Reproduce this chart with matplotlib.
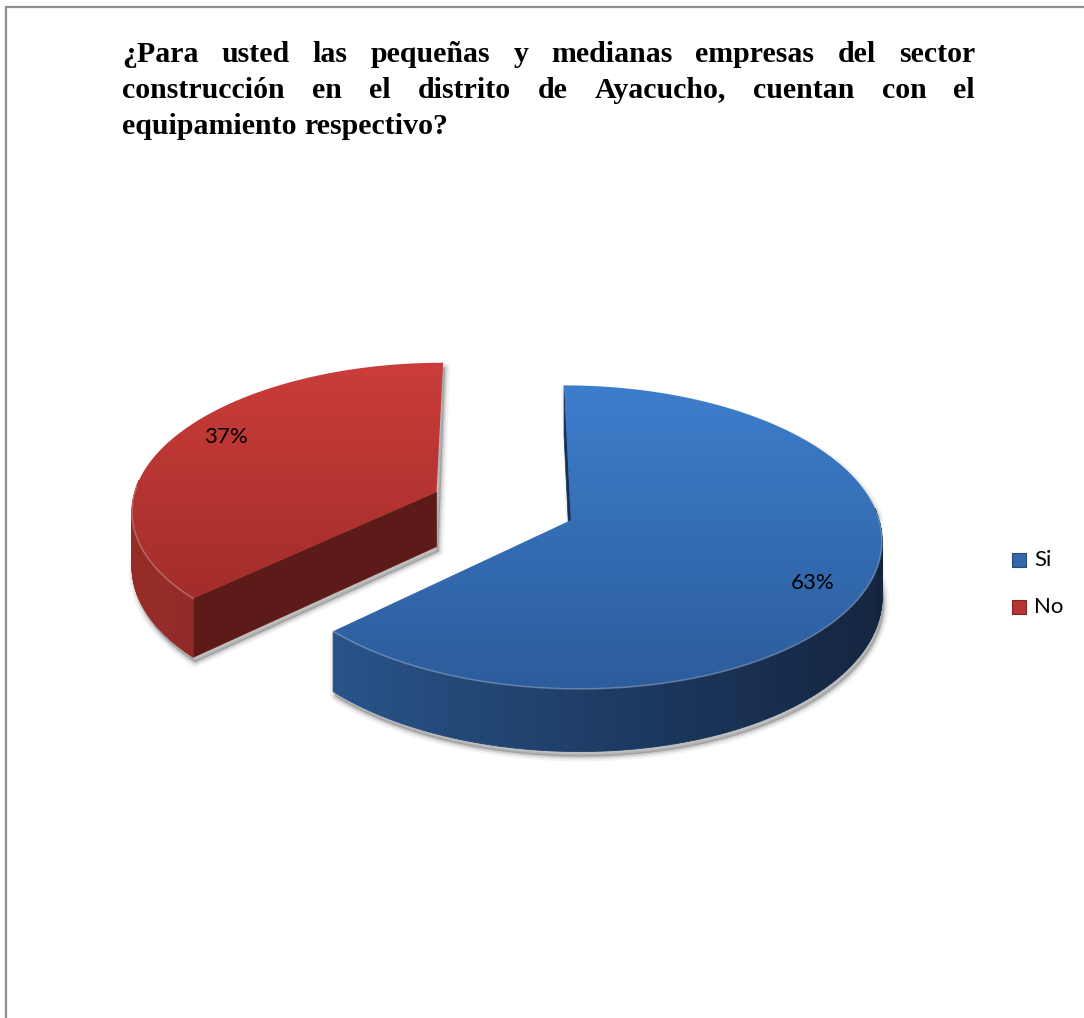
import numpy as np
import matplotlib
matplotlib.use("Agg")
import matplotlib.pyplot as plt
from matplotlib.patches import Polygon, Rectangle
from matplotlib.colors import to_rgb

# ------ data ------------------------------------------------
labels = ["Si", "No"]
values = [63, 37]
pct_labels = ["63%", "37%"]

title_lines = [
    "¿Para usted las pequeñas y medianas empresas del sector",
    "construcción en el distrito de Ayacucho, cuentan con el",
    "equipamiento respectivo?",
]

# top face (light, dark), side (light, dark), cut face
top_cols = [("#3d7ecc", "#2c5c9b"), ("#cb3d3a", "#a22d2a")]
side_cols = [("#285389", "#13243f"), ("#962c28", "#7a2320")]
cut_cols = ["#17305a", "#5c1a18"]
legend_cols = ["#3468a8", "#b53532"]

# ------ canvas (pixel coordinates) --------------------------
W, H = 1084, 1018
fig = plt.figure(figsize=(W / 100, H / 100), dpi=100)
ax = fig.add_axes([0, 0, 1, 1])
ax.axis("off")

# frame line on the left and top
ax.plot([6, 6, W + 5], [H + 5, 7, 7], color="#8f8f8f", lw=1.6,
        solid_joinstyle="miter", zorder=1)

# ------ title, justified ------------------------------------
renderer = fig.canvas.get_renderer()
tfont = dict(family="Liberation Serif", weight="bold", size=21.5)
x_left, x_right = 122, 975
baselines = [62, 98, 134]
for li, line in enumerate(title_lines):
    words = line.split(" ")
    texts = [ax.text(0, baselines[li], w, va="baseline", ha="left", **tfont)
             for w in words]
    widths = [t.get_window_extent(renderer).width for t in texts]
    if li < len(title_lines) - 1:
        gap = (x_right - x_left - sum(widths)) / (len(words) - 1)
    else:
        sp = ax.text(0, 0, "a a", **tfont)
        sa = ax.text(0, 0, "aa", **tfont)
        gap = sp.get_window_extent(renderer).width - sa.get_window_extent(renderer).width
        sp.remove()
        sa.remove()
    x = x_left
    for t, w in zip(texts, widths):
        t.set_x(x)
        x += w + gap

# ------ 3d pie geometry --------------------------------------
cx, cy = 503, 506        # pie centre on screen
rx, ry = 305, 146.7      # radii of the projected ellipse
persp = 0.111            # perspective strength
thick = 55               # slice height
explode = 0.24
lab_r, lab_shift = 0.84, np.radians(-5)


def proj(X, Y, z=0.0):
    d = 1 + persp * Y
    return cx + rx * X / d, cy - ry * Y / d + thick * z / d


def mix(c1, c2, f):
    a, b = np.array(to_rgb(c1)), np.array(to_rgb(c2))
    f = min(max(f, 0), 1)
    return tuple(a + (b - a) * f)


def grad_fill(pts, c_top, c_bot, z):
    pts = np.asarray(pts)
    patch = Polygon(pts, closed=True, fc="none", ec="none", zorder=z)
    ax.add_patch(patch)
    y0, y1 = pts[:, 1].min(), pts[:, 1].max()
    x0, x1 = pts[:, 0].min(), pts[:, 0].max()
    n = 64
    arr = np.array([mix(c_top, c_bot, i / (n - 1)) for i in range(n)])[:, None, :]
    arr = np.repeat(arr, 2, axis=1)
    im = ax.imshow(arr, extent=(x0 - 1, x1 + 1, y1 + 1, y0 - 1), origin="upper",
                   aspect="auto", interpolation="bilinear", zorder=z)
    im.set_clip_path(patch)


total = float(sum(values))
cum = 0.0
slices = []
for i, v in enumerate(values):
    t_hi = 90 - cum / total * 360
    t_lo = t_hi - v / total * 360
    cum += v
    mid = np.radians((t_lo + t_hi) / 2)
    slices.append((i, np.radians(t_lo), np.radians(t_hi),
                   explode * np.cos(mid), explode * np.sin(mid), mid))

# draw the back slice first
order = sorted(slices, key=lambda s: -s[4])
for k, (i, a_lo, a_hi, ox, oy, mid) in enumerate(order):
    zb = 2 + k * 10
    ts = np.linspace(a_hi, a_lo, 240)
    top_arc = [proj(ox + np.cos(t), oy + np.sin(t)) for t in ts]
    bot_arc = [proj(ox + np.cos(t), oy + np.sin(t), 1) for t in ts]
    apex_t = proj(ox, oy)
    apex_b = proj(ox, oy, 1)

    # soft shadow around the slice outline
    front = np.sin(ts) < 0.05
    outline = [apex_b] + [bot_arc[j] if front[j] else top_arc[j] for j in range(len(ts))]
    outline.append(top_arc[-1])
    shp = np.array(outline) + np.array([2, 5])
    for lw, al in [(7, 0.05), (4, 0.07), (2, 0.09)]:
        ax.add_patch(Polygon(shp, closed=True, fc=(0, 0, 0, al), ec=(0, 0, 0, al),
                             lw=lw, joinstyle="round", zorder=zb))

    # radial cut faces that face the viewer
    for a, sgn in [(a_lo, 1), (a_hi, -1)]:
        ny = np.cos(a) * sgn * -1
        if ny < 0 or (a == a_hi and abs(np.cos(a)) < 1e-6):
            rim_t = proj(ox + np.cos(a), oy + np.sin(a))
            rim_b = proj(ox + np.cos(a), oy + np.sin(a), 1)
            ax.add_patch(Polygon([apex_t, rim_t, rim_b, apex_b], closed=True,
                                 fc=cut_cols[i], ec=cut_cols[i], lw=0.5, zorder=zb + 1))

    # outer curved side, shaded left to right
    xs_all = [p[0] for p in top_arc]
    xmin, xmax = min(xs_all), max(xs_all)
    for j in range(len(ts) - 1):
        if np.sin(ts[j]) > 0.08 and np.sin(ts[j + 1]) > 0.08:
            continue
        quad = [top_arc[j], top_arc[j + 1], bot_arc[j + 1], bot_arc[j]]
        f = (top_arc[j][0] - xmin) / (xmax - xmin + 1e-9)
        c = mix(side_cols[i][0], side_cols[i][1], f)
        ax.add_patch(Polygon(quad, closed=True, fc=c, ec=c, lw=0.6, zorder=zb + 2))

    # top face with vertical gradient
    face = [apex_t] + top_arc
    grad_fill(face, top_cols[i][0], top_cols[i][1], zb + 3)
    fr = [top_arc[j] for j in range(len(ts)) if front[j]]
    if fr:
        fr = np.array(fr)
        ax.plot(fr[:, 0], fr[:, 1], color="white", alpha=0.25, lw=1.2, zorder=zb + 4)

    # percentage label
    la = mid + lab_shift
    lx, ly = proj(ox + lab_r * np.cos(la), oy + lab_r * np.sin(la))
    ax.text(lx, ly, pct_labels[i], ha="center", va="center", family="Lato",
            size=16, color="black", zorder=zb + 5)

# ------ legend ----------------------------------------------
leg_y = [560, 607]
for i, lab in enumerate(labels):
    ax.add_patch(Rectangle((1012, leg_y[i] - 7), 14, 14, fc=legend_cols[i],
                           ec=mix(legend_cols[i], "black", 0.3), lw=0.8, zorder=40))
    ax.text(1034, leg_y[i], lab, ha="left", va="center", family="Lato",
            size=16, color="black", zorder=40)

ax.set_xlim(0, W)
ax.set_ylim(H, 0)
fig.savefig("out.png", dpi=100, facecolor="white")
